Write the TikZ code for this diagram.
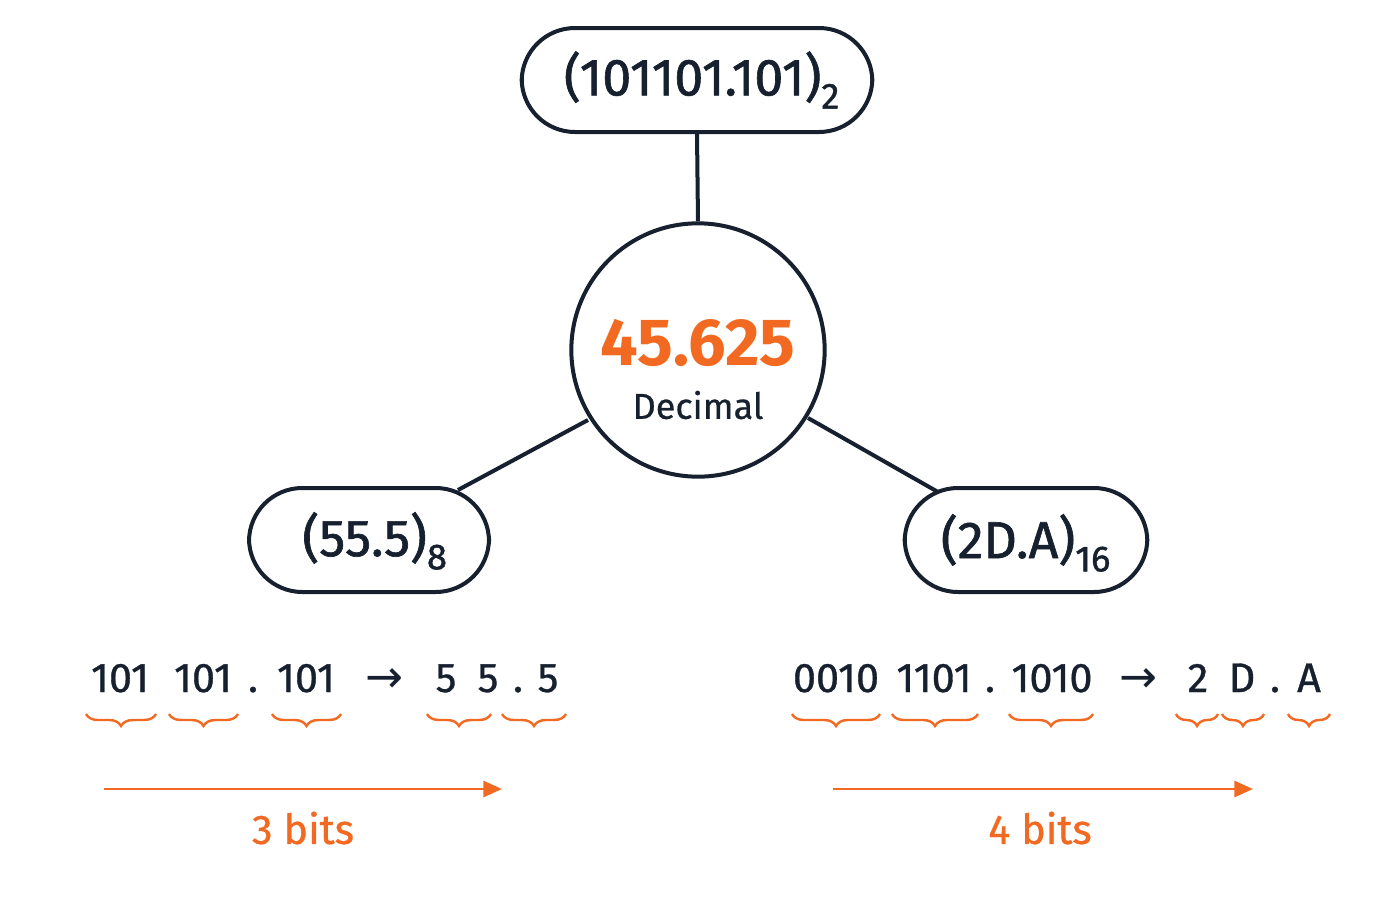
\documentclass[tikz,border=0pt]{standalone}
\usepackage{fontspec}
\setmainfont{Fira Sans}
\newfontfamily\arrfont{DejaVu Sans}
\usetikzlibrary{decorations.pathreplacing,arrows.meta}
\definecolor{org}{HTML}{F26A21}
\definecolor{ink}{HTML}{16202E}
\begin{document}
\begin{tikzpicture}[x=0.75pt,y=-0.75pt,
  box/.style={draw=ink,line width=3pt,rounded corners=40pt,inner sep=0pt},
  lnk/.style={draw=ink,line width=3pt},
  tok/.style={font=\fontsize{31}{36}\selectfont\addfontfeature{FakeBold=0.8},text=ink,inner sep=0pt,anchor=base},
  big/.style={font=\fontsize{39}{46}\selectfont\addfontfeature{FakeBold=1.2},text=ink},
  br/.style={decorate,decoration={brace,mirror,amplitude=9pt},draw=org,line width=1.8pt},
  arr/.style={draw=org,line width=2.2pt,-{Triangle[length=14pt,width=12pt]}},
  lab/.style={font=\fontsize{31}{36}\selectfont\addfontfeature{FakeBold=0.8},text=org,inner sep=0pt}]
\useasboundingbox[fill=white] (0,0) rectangle (1400,900);
\node[box,minimum width=263pt,minimum height=78pt] (top) at (697,80) {};
\node[big] (toptxt) at (702,80) {(101101.101)\textsubscript{2}};
\node[draw=ink,line width=3pt,circle,minimum size=190pt] (c) at (698,350) {};
\node[font=\fontsize{50}{60}\selectfont\bfseries,text=org] (num) at (698,343) {45.625};
\node[font=\fontsize{27}{32}\selectfont\addfontfeature{FakeBold=0.6},text=ink] (dec) at (698,405) {Decimal};
\node[box,minimum width=180pt,minimum height=78pt] (l) at (369,540) {};
\node[big] (ltxt) at (375,541) {(55.5)\textsubscript{8}};
\node[box,minimum width=182pt,minimum height=78pt] (r) at (1026,540) {};
\node[big] (rtxt) at (1026,543) {(2D.A)\textsubscript{16}};
\draw[lnk] (top.south) -- (c.north);
\coordinate (la) at (588,420); \coordinate (lb) at (458,490);
\coordinate (ra) at (808,418); \coordinate (rb) at (938,492);
\draw[lnk] (la) -- (lb);
\draw[lnk] (ra) -- (rb);
% left row
\foreach \t/\x in {101/120,101/203,./253,101/306,5/446,5/488,./518,5/548}
  \node[tok] at (\x,692) {\t};
\node[tok,font=\fontsize{34}{36}\selectfont\arrfont] (la1) at (384,692) {→};
\foreach \a/\b in {86/156,169/238,272/341,427/491,502/566}
  \draw[br] (\a,714) -- (\b,714);
\coordinate (a1) at (104,789); \coordinate (a2) at (502,789);
\draw[arr] (a1) -- (a2);
\node[lab] (t3) at (303,828) {3 bits};
% right row
\foreach \t/\x in {0010/836,1101/934,./990,1010/1052,2/1198,D/1242,./1275,A/1309}
  \node[tok] at (\x,692) {\t};
\node[tok,font=\fontsize{34}{36}\selectfont\arrfont] (ra1) at (1138,692) {→};
\foreach \a/\b in {792/880,892/978,1009/1093,1176/1218,1222/1264,1288/1330}
  \draw[br] (\a,714) -- (\b,714);
\coordinate (b1) at (833,789); \coordinate (b2) at (1253,789);
\draw[arr] (b1) -- (b2);
\node[lab] (t4) at (1040,828) {4 bits};
\end{tikzpicture}
\end{document}
